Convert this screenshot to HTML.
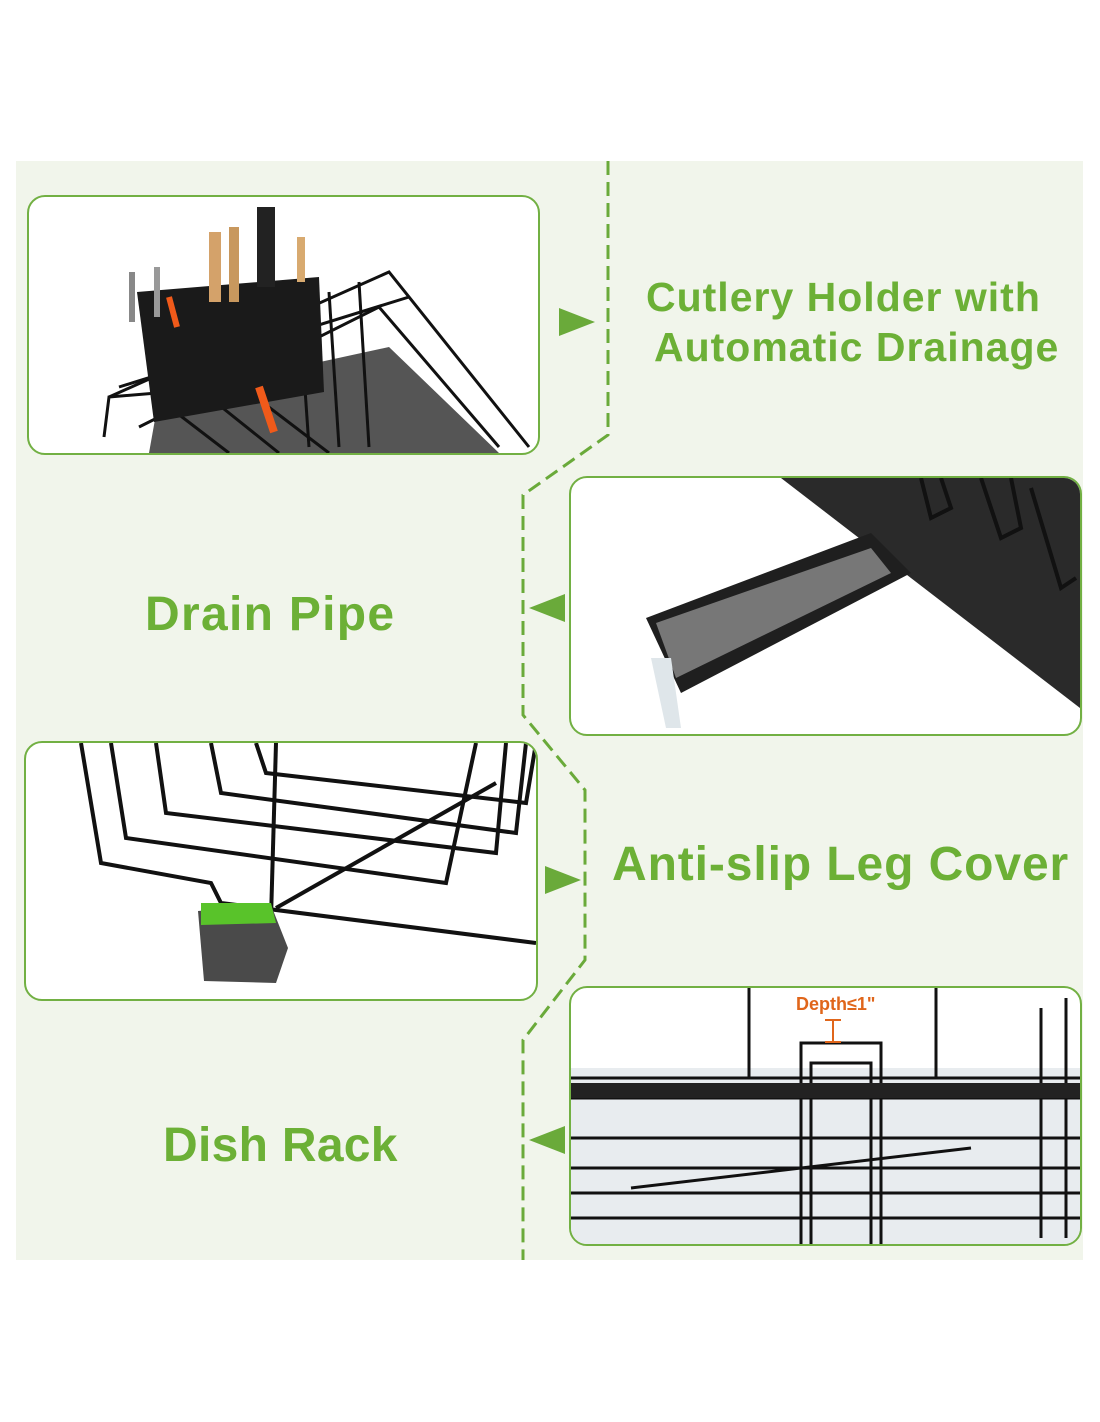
<!DOCTYPE html>
<html><head><style>
body{margin:0;width:1100px;height:1422px;background:#fff;position:relative;overflow:hidden;font-family:"Liberation Sans","DejaVu Sans",sans-serif}
.panel{position:absolute;left:16px;top:161px;width:1067px;height:1099px;background:#f1f5eb}
.box{position:absolute;background:#fff;border:2px solid #72b043;border-radius:18px;overflow:hidden}
.t{position:absolute;color:#6cb036;font-weight:bold;white-space:nowrap}
svg{position:absolute;left:0;top:0}
</style></head><body>
<div class="panel"></div>
<div class="box" style="left:27px;top:195px;width:509px;height:256px">
<svg width="509" height="256"><path d="M130 200 L360 150 L470 256 L120 256 Z" fill="#555"/>
<g stroke="#111" stroke-width="3" fill="none">
<path d="M80 200 L360 75 L500 250"/><path d="M75 240 L80 200 L200 190"/>
<path d="M110 230 L350 110 L470 250"/><path d="M90 190 L380 100"/>
<line x1="330" y1="85" x2="340" y2="250"/><line x1="300" y1="95" x2="310" y2="250"/><line x1="270" y1="105" x2="280" y2="250"/>
<line x1="140" y1="210" x2="200" y2="256"/><line x1="180" y1="200" x2="250" y2="256"/><line x1="220" y1="195" x2="300" y2="256"/>
</g>
<path d="M108 95 L290 80 L295 195 L125 225 Z" fill="#1a1a1a"/>
<rect x="180" y="35" width="12" height="70" fill="#d4a26a"/><rect x="200" y="30" width="10" height="75" fill="#c8985e"/>
<rect x="228" y="10" width="18" height="80" fill="#222"/><rect x="268" y="40" width="8" height="45" fill="#d8aa70"/>
<rect x="100" y="75" width="6" height="50" fill="#888"/><rect x="125" y="70" width="6" height="50" fill="#999"/>
<path d="M140 100 L148 130" stroke="#f05a1a" stroke-width="6"/><path d="M230 190 L245 235" stroke="#f05a1a" stroke-width="8"/>
</svg></div>
<div class="box" style="left:569px;top:476px;width:509px;height:256px">
<svg width="509" height="256"><path d="M210 0 L509 0 L509 230 Z" fill="#2a2a2a"/>
<g stroke="#111" stroke-width="4" fill="none"><path d="M350 0 L360 40 L380 30 L370 0"/><path d="M410 0 L430 60 L450 50 L440 0"/><path d="M460 10 L490 110 L505 100"/></g>
<path d="M75 140 L300 55 L340 95 L110 215 Z" fill="#1f1f1f"/><path d="M85 145 L300 70 L320 95 L105 200 Z" fill="#777"/>
<path d="M80 180 L95 250 L110 250 L100 180 Z" fill="#dfe6ea"/></svg></div>
<div class="box" style="left:24px;top:741px;width:510px;height:256px">
<svg width="510" height="256"><g stroke="#111" stroke-width="4" fill="none">
<path d="M55 0 L75 120 L185 140 L195 160 L510 200"/><path d="M85 0 L100 95 L420 140 L450 0"/>
<path d="M130 0 L140 70 L470 110 L480 0"/><path d="M185 0 L195 50 L490 90 L500 0"/><path d="M230 0 L240 30 L500 60 L510 0"/>
<path d="M250 165 L470 40"/><path d="M245 175 L250 0"/></g>
<path d="M172 168 L245 162 L262 205 L250 240 L178 238 Z" fill="#4a4a4a"/><path d="M175 160 L245 160 L250 180 L175 182 Z" fill="#59c32a"/></svg></div>
<div class="box" style="left:569px;top:986px;width:509px;height:256px">
<svg width="509" height="256"><rect x="0" y="80" width="509" height="176" fill="#e8ecef"/>
<g stroke="#111" stroke-width="3" fill="none">
<line x1="0" y1="90" x2="509" y2="90"/><line x1="0" y1="110" x2="509" y2="110"/><line x1="0" y1="150" x2="509" y2="150"/><line x1="0" y1="180" x2="509" y2="180"/><line x1="0" y1="205" x2="509" y2="205"/><line x1="0" y1="230" x2="509" y2="230"/>
<line x1="178" y1="0" x2="178" y2="90"/><line x1="365" y1="0" x2="365" y2="90"/><line x1="470" y1="20" x2="470" y2="250"/><line x1="495" y1="10" x2="495" y2="250"/>
<path d="M230 256 L230 55 L310 55 L310 256"/><path d="M240 256 L240 75 L300 75 L300 256"/>
<line x1="60" y1="200" x2="400" y2="160"/></g>
<rect x="0" y="95" width="509" height="15" fill="#222"/>
<text x="225" y="22" fill="#e0661b" font-weight="bold" font-size="18">Depth≤1"</text>
<path d="M262 32 v22 M254 32 h16 M254 54 h16" stroke="#e0661b" stroke-width="2"/></svg></div>
<svg width="1100" height="1422">
<path d="M608 161 L608 435 L523 495 L523 715 L585 790 L585 960 L523 1040 L523 1260" stroke="#6aaa3a" stroke-width="3" fill="none" stroke-dasharray="14 7"/>
<path d="M559 308 L595 322 L559 336 Z" fill="#6aaa3a"/>
<path d="M565 594 L529 608 L565 622 Z" fill="#6aaa3a"/>
<path d="M545 866 L581 880 L545 894 Z" fill="#6aaa3a"/>
<path d="M565 1126 L529 1140 L565 1154 Z" fill="#6aaa3a"/>
</svg>
<div class="t" style="left:646px;top:274px;font-size:41px;letter-spacing:1px">Cutlery Holder with</div>
<div class="t" style="left:654px;top:324px;font-size:41px;letter-spacing:1px">Automatic Drainage</div>
<div class="t" style="left:145px;top:587px;font-size:48px;letter-spacing:1.3px">Drain Pipe</div>
<div class="t" style="left:612px;top:837px;font-size:48px;letter-spacing:0.9px">Anti-slip Leg Cover</div>
<div class="t" style="left:163px;top:1118px;font-size:48px;letter-spacing:0.3px">Dish Rack</div>
</body></html>
